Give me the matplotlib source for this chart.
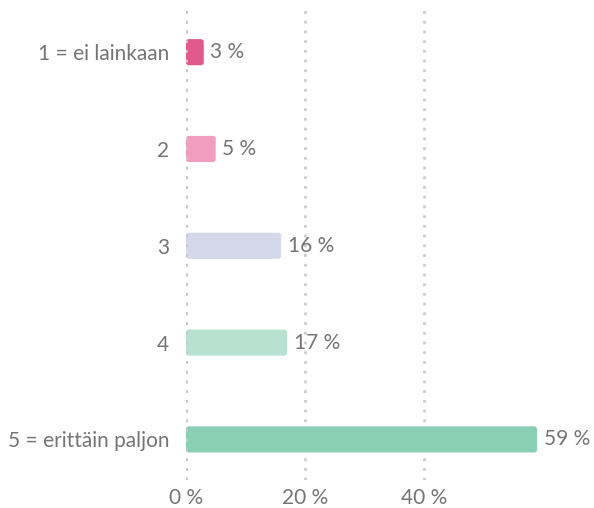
import matplotlib.pyplot as plt
from matplotlib.patches import FancyBboxPatch

# data
categories = ['1 = ei lainkaan', '2', '3', '4', '5 = erittäin paljon']
values = [3, 5, 16, 17, 59]
colors = ['#e25a8b', '#f09dbf', '#d3d9e8', '#b7e2d2', '#88cfb3']
ticks = [0, 20, 40]
tick_labels = ['0 %', '20 %', '40 %']

plt.rcParams['font.family'] = ['Lato', 'DejaVu Sans']

fig = plt.figure(figsize=(5.94, 5.08), dpi=100)
ax = fig.add_axes([0.313, 0.055, 0.596, 0.929])

y = list(range(len(categories)))
bars = ax.barh(y, values, height=0.27, color=colors, zorder=2)

# swap plain bars for slightly rounded ones
for b in bars:
    x0, y0 = b.get_x(), b.get_y()
    w, h = b.get_width(), b.get_height()
    p = FancyBboxPatch((x0, y0), w, h, boxstyle='round,pad=0,rounding_size=0.5',
                       mutation_aspect=0.055, facecolor=b.get_facecolor(),
                       edgecolor='none', zorder=2)
    b.set_visible(False)
    ax.add_patch(p)

for yi, v in zip(y, values):
    ax.text(v + 1.1, yi, f'{v} %', va='center', ha='left', fontsize=15, color='#757575')

ax.set_xlim(0, 59.5)
ax.set_ylim(4.42, -0.455)
ax.set_xticks(ticks)
ax.set_xticklabels(tick_labels)
ax.set_yticks(y)
ax.set_yticklabels(categories)
ax.tick_params(axis='both', length=0, labelsize=15, labelcolor='#757575')
ax.tick_params(axis='y', pad=12)
ax.tick_params(axis='x', pad=6)
ax.grid(axis='x', color='#cccccc', linestyle=(0, (1, 2.5)), linewidth=2, zorder=1)
ax.set_axisbelow(True)
# zero line sits on top of the bar starts
ax.axvline(0, color='#c8c8c8', linestyle=(0, (1, 2.5)), linewidth=2, zorder=3)
for s in ax.spines.values():
    s.set_visible(False)

plt.savefig('out.png', dpi=100)
